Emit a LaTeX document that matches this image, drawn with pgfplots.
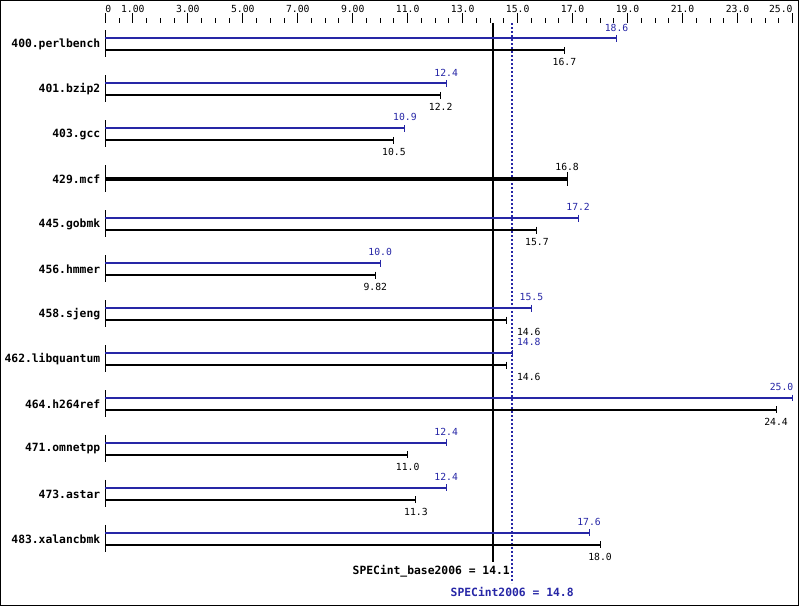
\documentclass[border=0pt]{standalone}
\usepackage{pgfplots}
\pgfplotsset{compat=1.18}
\usepackage{fontspec}
\newfontfamily\mono{DejaVu Sans Mono}
\newcommand\valfont{\mono\fontsize{9.8}{10}\selectfont}
\newcommand\catfont{\mono\bfseries\fontsize{11.4}{12}\selectfont}
\definecolor{peakblue}{RGB}{38,38,166}
\tikzset{
    peak/.style={peakblue, line width=2bp, mark=|, mark indices={2},
        mark size=3.5bp, mark options={line width=1bp}},
    base/.style={black, line width=2bp, mark=|, mark indices={2},
        mark size=3.5bp, mark options={line width=1bp}},
    plab/.style={font=\valfont, text=peakblue, inner sep=0pt},
    blab/.style={font=\valfont, text=black, inner sep=0pt},
    cat/.style={font=\catfont, anchor=east, inner sep=0pt},
}

\begin{document}
\begin{tikzpicture}
\useasboundingbox (-0.5bp,-0.5bp) rectangle (799.5bp,606.5bp);
% main axis: y in pixels from the top, x in ratio units (0 at 105px, 27.52px per unit)
\begin{axis}[
    name=main,
    at={(0,0)}, anchor=south west,
    scale only axis,
    width=799bp, height=606bp,
    xmin=-3.815, xmax=25.218,
    ymin=-606, ymax=0,
    xtick=\empty, ytick=\empty,
    axis line style={line width=1bp, black},
    clip=false,
    unbounded coords=jump,
]
% reference lines
\addplot[black, line width=2bp] coordinates {(14.1,-23) (14.1,-562)};
\addplot[peakblue, line width=2bp, dash pattern=on 2bp off 2bp] coordinates {(14.8,-23) (14.8,-583)};

% group separators at zero
\addplot[black, line width=1bp] coordinates {
    (0,-30) (0,-57) (nan,nan)
    (0,-75) (0,-102) (nan,nan)
    (0,-120) (0,-147) (nan,nan)
    (0,-165) (0,-192) (nan,nan)
    (0,-210) (0,-237) (nan,nan)
    (0,-255) (0,-282) (nan,nan)
    (0,-300) (0,-327) (nan,nan)
    (0,-345) (0,-372) (nan,nan)
    (0,-390) (0,-417) (nan,nan)
    (0,-435) (0,-462) (nan,nan)
    (0,-480) (0,-507) (nan,nan)
    (0,-525) (0,-552)
};

% 400.perlbench
\addplot[peak] coordinates {(0,-38) (18.6,-38)};
\addplot[base] coordinates {(0,-50) (16.7,-50)};
\node[plab] at (axis cs:18.6,-27) {18.6};
\node[blab] at (axis cs:16.7,-62) {16.7};
\node[cat] at (axis cs:-0.18,-44) {400.perlbench};
% 401.bzip2
\addplot[peak] coordinates {(0,-83) (12.4,-83)};
\addplot[base] coordinates {(0,-95) (12.2,-95)};
\node[plab] at (axis cs:12.4,-72) {12.4};
\node[blab] at (axis cs:12.2,-107) {12.2};
\node[cat] at (axis cs:-0.18,-89) {401.bzip2};
% 403.gcc
\addplot[peak] coordinates {(0,-128) (10.9,-128)};
\addplot[base] coordinates {(0,-140) (10.5,-140)};
\node[plab] at (axis cs:10.9,-117) {10.9};
\node[blab] at (axis cs:10.5,-152) {10.5};
\node[cat] at (axis cs:-0.18,-134) {403.gcc};
% 429.mcf (base only)
\addplot[black, line width=4bp, mark=|, mark indices={2}, mark size=7bp,
    mark options={line width=1bp}] coordinates {(0,-179) (16.8,-179)};
\node[blab] at (axis cs:16.8,-167) {16.8};
\node[cat] at (axis cs:-0.18,-179) {429.mcf};
% 445.gobmk
\addplot[peak] coordinates {(0,-218) (17.2,-218)};
\addplot[base] coordinates {(0,-230) (15.7,-230)};
\node[plab] at (axis cs:17.2,-207) {17.2};
\node[blab] at (axis cs:15.7,-242) {15.7};
\node[cat] at (axis cs:-0.18,-224) {445.gobmk};
% 456.hmmer
\addplot[peak] coordinates {(0,-263) (10.0,-263)};
\addplot[base] coordinates {(0,-275) (9.82,-275)};
\node[plab] at (axis cs:10.0,-252) {10.0};
\node[blab] at (axis cs:9.82,-287) {9.82};
\node[cat] at (axis cs:-0.18,-269) {456.hmmer};
% 458.sjeng
\addplot[peak] coordinates {(0,-308) (15.5,-308)};
\addplot[base] coordinates {(0,-320) (14.6,-320)};
\node[plab] at (axis cs:15.5,-297) {15.5};
\node[blab, anchor=west] at (axis cs:14.97,-332) {14.6};
\node[cat] at (axis cs:-0.18,-314) {458.sjeng};
% 462.libquantum
\addplot[peak] coordinates {(0,-353) (14.8,-353)};
\addplot[base] coordinates {(0,-365) (14.6,-365)};
\node[plab, anchor=west] at (axis cs:14.97,-342) {14.8};
\node[blab, anchor=west] at (axis cs:14.97,-377) {14.6};
\node[cat] at (axis cs:-0.18,-359) {462.libquantum};
% 464.h264ref
\addplot[peak] coordinates {(0,-398) (25.0,-398)};
\addplot[base] coordinates {(0,-410) (24.4,-410)};
\node[plab] at (axis cs:24.6,-387) {25.0};
\node[blab] at (axis cs:24.4,-422) {24.4};
\node[cat] at (axis cs:-0.18,-404) {464.h264ref};
% 471.omnetpp
\addplot[peak] coordinates {(0,-443) (12.4,-443)};
\addplot[base] coordinates {(0,-455) (11.0,-455)};
\node[plab] at (axis cs:12.4,-432) {12.4};
\node[blab] at (axis cs:11.0,-467) {11.0};
\node[cat] at (axis cs:-0.18,-449) {471.omnetpp};
% 473.astar
\addplot[peak] coordinates {(0,-488) (12.4,-488)};
\addplot[base] coordinates {(0,-500) (11.3,-500)};
\node[plab] at (axis cs:12.4,-477) {12.4};
\node[blab] at (axis cs:11.3,-512) {11.3};
\node[cat] at (axis cs:-0.18,-494) {473.astar};
% 483.xalancbmk
\addplot[peak] coordinates {(0,-533) (17.6,-533)};
\addplot[base] coordinates {(0,-545) (18.0,-545)};
\node[plab] at (axis cs:17.6,-522) {17.6};
\node[blab] at (axis cs:18.0,-557) {18.0};
\node[cat] at (axis cs:-0.18,-539) {483.xalancbmk};

% summary labels
\node[font=\catfont, anchor=east, inner sep=0pt] at (axis cs:14.72,-571) {SPECint\_base2006 = 14.1};
\node[font=\catfont, text=peakblue, inner sep=0pt] at (axis cs:14.8,-592) {SPECint2006 = 14.8};
\end{axis}

% scale along the top
\begin{axis}[
    at={(105bp,583bp)}, anchor=north west,
    scale only axis,
    width=688bp, height=10bp,
    xmin=0, xmax=25, ymin=0, ymax=1,
    axis x line*=top, axis y line=none,
    x axis line style={draw=none},
    ytick=\empty,
    xtick={0,1,3,5,7,9,11,13,15,17,19,21,23,25},
    xticklabels={\rlap{0},1.00,3.00,5.00,7.00,9.00,11.0,13.0,15.0,17.0,19.0,21.0,23.0,\llap{25.0}},
    minor xtick={0.5,1,...,25},
    tick align=outside,
    major tick length=10bp, minor tick length=5bp,
    major tick style={black, line width=1bp},
    minor tick style={black, line width=1bp},
    xticklabel style={font=\valfont, inner sep=0pt, yshift=1bp},
]
\end{axis}
\end{tikzpicture}
\end{document}
